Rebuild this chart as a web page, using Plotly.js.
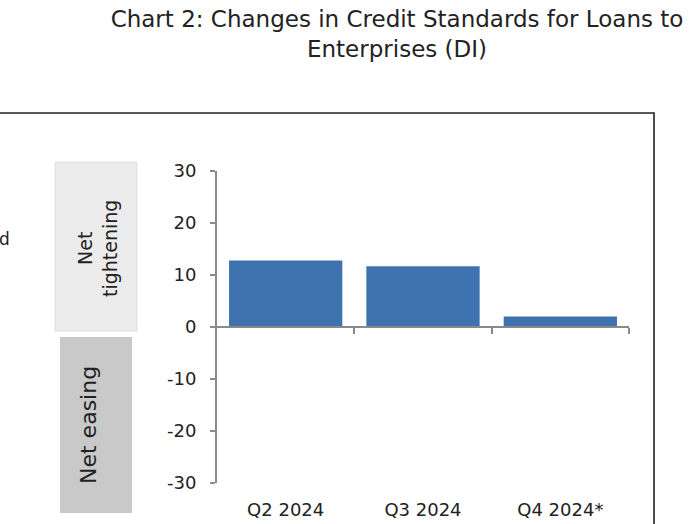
<!DOCTYPE html>
<html>
<head>
<meta charset="utf-8">
<script src="https://cdn.plot.ly/plotly-3.0.1.min.js"></script>
<style>
  body { margin: 0; background: #fff; }
  #chart { width: 699px; height: 524px; }
</style>
</head>
<body>
<div id="chart"></div>
<script>
// quarters and diffusion index values
const quarters = ['Q2 2024', 'Q3 2024', 'Q4 2024*'];
const di_values = [12.8, 11.7, 2.0];
const y_ticks = [-30, -20, -10, 0, 10, 20, 30];
const y_tick_text = ['-30', '-20', '-10', '0', '10', '20', '30'];

const FONT = 'DejaVu Sans';
const AXIS_GREY = '#8a8a8a';

// plot area in pixels, used to turn page pixels into paper coords
const L = 217, R = 629, T = 171, B = 483;
function px(x) { return (x - L) / (R - L); }
function py(y) { return (B - y) / (B - T); }

let bars = {
  x: quarters,
  y: di_values,
  type: 'bar',
  marker: { color: '#3f73b0' },
  hoverinfo: 'x+y',
  showlegend: false
};

// empty-looking trace so the zero-line axis (x2) gets drawn
let axis_holder = {
  x: [0],
  y: [0],
  xaxis: 'x2',
  type: 'scatter',
  mode: 'markers',
  marker: { opacity: 0 },
  hoverinfo: 'skip',
  showlegend: false
};

let shapes = [
  // shadow around the "Net tightening" box
  { type: 'rect', xref: 'paper', yref: 'paper', layer: 'below',
    x0: px(54), x1: px(138), y0: py(161), y1: py(332),
    fillcolor: 'rgba(0,0,0,0.05)', line: { width: 0 } },
  { type: 'rect', xref: 'paper', yref: 'paper', layer: 'below',
    x0: px(55), x1: px(137), y0: py(162), y1: py(331),
    fillcolor: 'rgba(0,0,0,0.06)', line: { width: 0 } },
  { type: 'rect', xref: 'paper', yref: 'paper', layer: 'below',
    x0: px(56), x1: px(136), y0: py(163), y1: py(330),
    fillcolor: '#ececec', line: { width: 0 } },
  // "Net easing" box
  { type: 'rect', xref: 'paper', yref: 'paper', layer: 'below',
    x0: px(60), x1: px(132), y0: py(337), y1: py(513),
    fillcolor: '#c9c9c9', line: { width: 0 } },
  // frame of the chart panel
  { type: 'path', xref: 'paper', yref: 'paper',
    path: 'M ' + px(-5) + ' ' + py(113) + ' L ' + px(654) + ' ' + py(113) +
          ' L ' + px(654) + ' ' + py(540),
    line: { color: '#222', width: 1.6 } }
];

let annotations = [
  { xref: 'paper', yref: 'paper', x: px(97), y: py(249),
    text: 'Net<br>tightening', textangle: -90, showarrow: false,
    xanchor: 'center', yanchor: 'middle',
    font: { family: FONT, size: 19, color: '#222' } },
  { xref: 'paper', yref: 'paper', x: px(88), y: py(425),
    text: 'Net easing', textangle: -90, showarrow: false,
    xanchor: 'center', yanchor: 'middle',
    font: { family: FONT, size: 22, color: '#222' } },
  { xref: 'paper', yref: 'paper', x: px(12), y: py(239),
    text: 'd', showarrow: false, xanchor: 'right', yanchor: 'middle',
    font: { family: FONT, size: 17, color: '#222' } }
];

let layout = {
  width: 699,
  height: 524,
  margin: { l: L, r: 699 - R, t: T, b: 524 - B, pad: 0 },
  paper_bgcolor: '#fff',
  plot_bgcolor: '#fff',
  font: { family: FONT, color: '#222' },
  title: {
    text: 'Chart 2: Changes in Credit Standards for Loans to<br>Enterprises (DI)',
    xref: 'container', yref: 'container',
    x: 397 / 699, xanchor: 'center',
    y: 1 - 27 / 524, yanchor: 'top',
    font: { family: FONT, size: 23, color: '#222' }
  },
  bargap: 0.175,
  xaxis: {
    type: 'category',
    range: [-0.5, 2.5],
    showline: false,
    showgrid: false,
    zeroline: false,
    ticks: '',
    ticklabelstandoff: 14,
    tickfont: { family: FONT, size: 18, color: '#222' }
  },
  // the category axis line drawn through y = 0
  xaxis2: {
    overlaying: 'x',
    anchor: 'free',
    position: 0.5,
    side: 'bottom',
    range: [-0.5, 2.5],
    tickmode: 'array',
    tickvals: [0.5, 1.5, 2.5],
    ticks: 'outside',
    ticklen: 6,
    tickwidth: 2,
    tickcolor: AXIS_GREY,
    showline: true,
    linecolor: AXIS_GREY,
    linewidth: 2,
    showgrid: false,
    zeroline: false,
    showticklabels: false
  },
  yaxis: {
    range: [-30, 30],
    tickmode: 'array',
    tickvals: y_ticks,
    ticktext: y_tick_text,
    ticks: 'outside',
    ticklen: 5,
    tickwidth: 2,
    tickcolor: AXIS_GREY,
    showline: true,
    linecolor: AXIS_GREY,
    linewidth: 2,
    showgrid: false,
    zeroline: false,
    ticklabelstandoff: 10,
    tickfont: { family: FONT, size: 18, color: '#222' }
  },
  shapes: shapes,
  annotations: annotations
};

Plotly.newPlot('chart', [bars, axis_holder], layout, { displayModeBar: false, staticPlot: true });
</script>
</body>
</html>
